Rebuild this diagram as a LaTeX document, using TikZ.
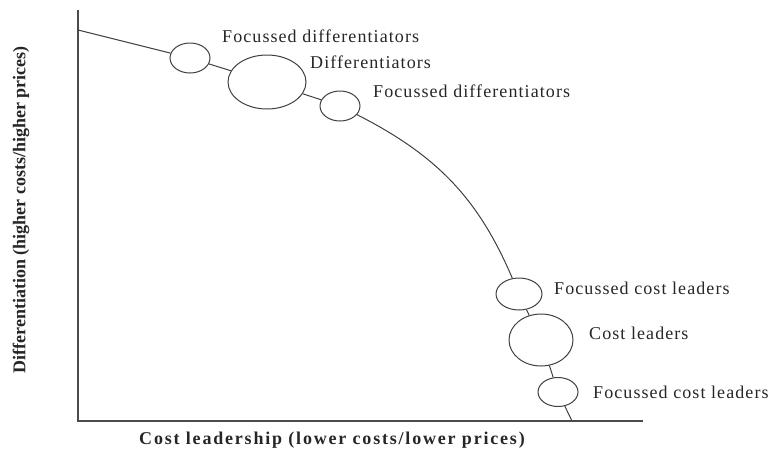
\documentclass[tikz,border=0pt]{standalone}
\usepackage{fontspec}
\setmainfont{Liberation Serif}
\newfontfamily\spacedfont[LetterSpace=6]{Liberation Serif}
\newfontfamily\widefont[LetterSpace=10]{Liberation Serif}
\usepackage{tikz}
\usetikzlibrary{shapes.geometric}
\usetikzlibrary{positioning}

\begin{document}
\begin{tikzpicture}[
        x=1pt, y=-1pt,
        % Style for the groups on the curve
        grpbox/.style={ellipse, draw=black!75, line width=1pt, inner sep=0pt, fill=white},
        smallgrp/.style={grpbox, minimum width=40pt, minimum height=30pt},
        biggrp/.style={grpbox, minimum width=70pt, minimum height=52pt},
        % Style for the group names
        grplabel/.style={anchor=west, inner sep=0pt, text=black!85, font=\spacedfont\fontsize{18}{21}\selectfont},
        % Style for the axis titles
        axislabel/.style={inner sep=0pt, text=black!85, font=\bfseries\fontsize{18}{21}\selectfont},
        curve/.style={draw=black!75, line width=1pt},
        axis/.style={draw=black!70, line width=1.6pt}
    ]
    \useasboundingbox (0,0) rectangle (781,450);

    % --- 1. AXES ---
    \coordinate (YTop) at (78,10);
    \coordinate (O) at (78,421);
    \coordinate (XEnd) at (643,421);
    \draw[axis] (YTop) -- (O) -- (XEnd);

    \node[axislabel] (XLabel) at (332,440) {\widefont\bfseries Cost leadership (lower costs/lower prices)};
    \node[axislabel, rotate=90] (YLabel) at (21,210) {Differentiation (higher costs/higher prices)};

    % --- 2. GROUPS (NODES) ---
    \node[smallgrp] (FD1) at (190,58) {};
    \node[biggrp, minimum width=78pt, minimum height=54pt] (D) at (267,82) {};
    \node[smallgrp] (FD2) at (340,106) {};
    \node[smallgrp, minimum width=46pt, minimum height=32pt] (FC1) at (519,294) {};
    \node[biggrp, minimum width=64pt] (C) at (541,340) {};
    \node[smallgrp, minimum height=29pt] (FC2) at (558,392) {};

    \node[grplabel] (FD1Lbl) at (222,36) {Focussed differentiators};
    \node[grplabel] (DLbl) at (310,62) {Differentiators};
    \node[grplabel] (FD2Lbl) at (373,91) {Focussed differentiators};
    \node[grplabel] (FC1Lbl) at (554,288) {Focussed cost leaders};
    \node[grplabel] (CLbl) at (589,333) {Cost leaders};
    \node[grplabel] (FC2Lbl) at (593,392) {Focussed cost leaders};

    % --- 3. THE CURVE ---
    \coordinate (CStart) at (78,30);
    \coordinate (CEnd) at (572,421);
    \draw[curve] (CStart) -- (FD1) -- (D) -- (FD2);
    \draw[curve] (FD2) to[out=-27, in=113] (FC1);
    \draw[curve] (FC1) -- (C) -- (FC2) -- (CEnd);

\end{tikzpicture}
\end{document}
